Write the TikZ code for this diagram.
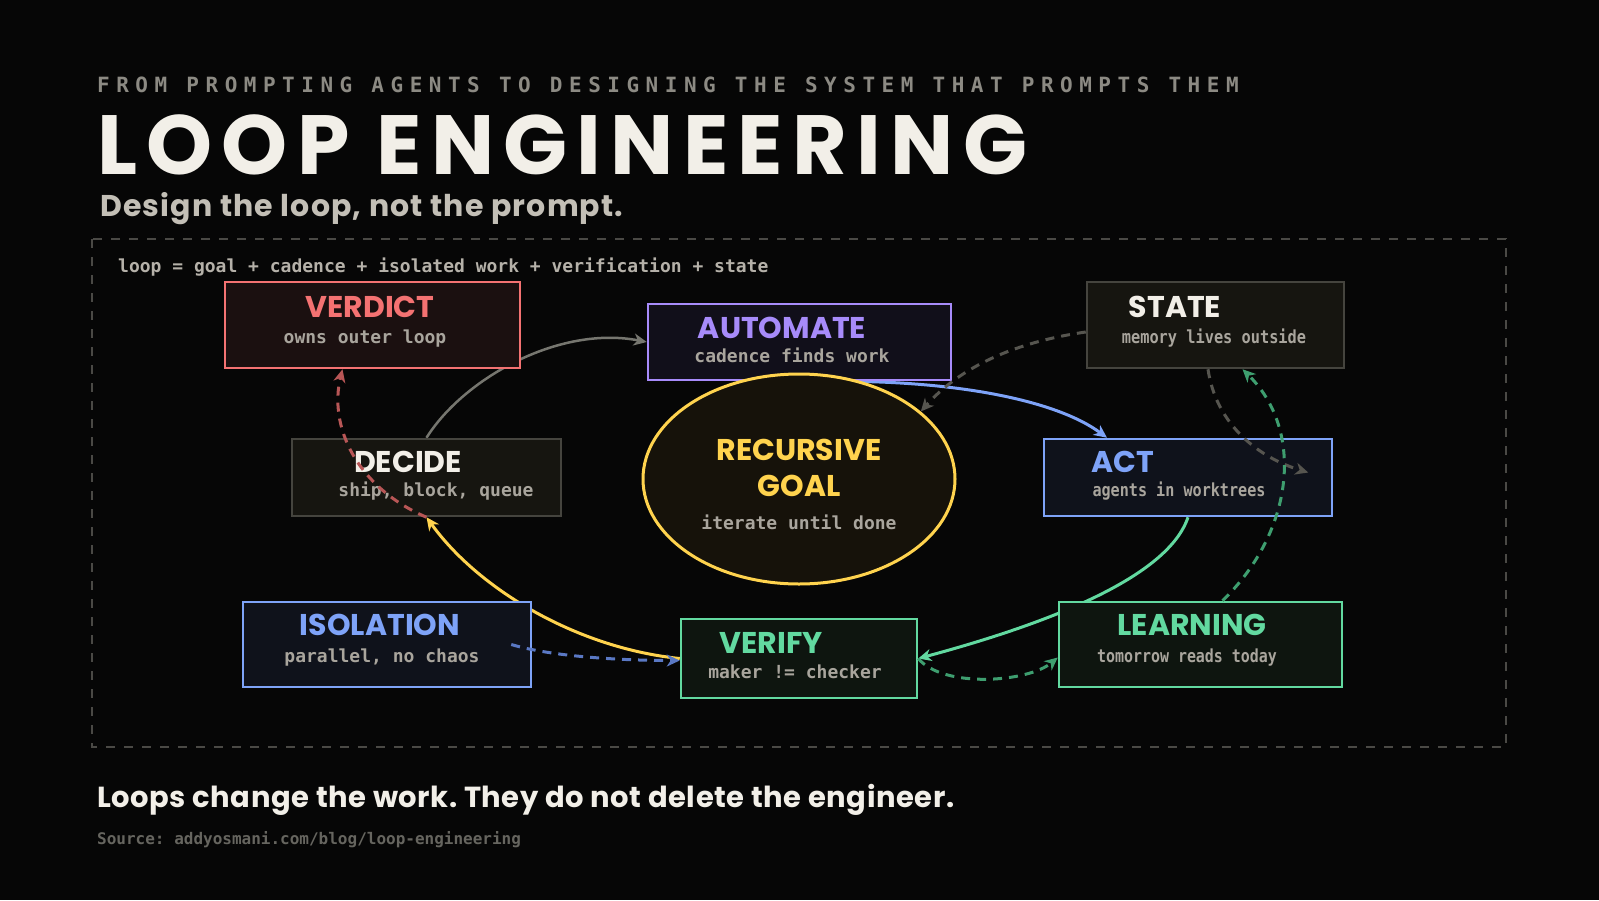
\documentclass[tikz,border=0pt]{standalone}
\usepackage{fontspec}
\usepackage{graphicx}
\usetikzlibrary{arrows.meta, shapes.geometric, positioning}
\setmainfont{Poppins}
\newfontfamily\titrefont{Poppins}
\newfontfamily\devisefont{Poppins}[LetterSpace=3.9]
\newfontfamily\moralefont{Poppins}[LetterSpace=1.9]
\newfontfamily\grandtitre{Poppins}[LetterSpace=11]
\newfontfamily\codefont{DejaVu Sans Mono}
\newfontfamily\surtitre{DejaVu Sans Mono}[LetterSpace=31]

\definecolor{fond}{HTML}{060606}
\definecolor{creme}{HTML}{F2EFE8}
\definecolor{grisclair}{HTML}{8C8A83}
\definecolor{grismoyen}{HTML}{C3BFB6}
\definecolor{cadre}{HTML}{4A4945}
\definecolor{formule}{HTML}{B5B1A9}
\definecolor{soustexte}{HTML}{A9A59D}
\definecolor{rouge}{HTML}{F47272}
\definecolor{rougefond}{HTML}{1B1010}
\definecolor{violet}{HTML}{A78BFA}
\definecolor{violetfond}{HTML}{110F1A}
\definecolor{grisbord}{HTML}{45443E}
\definecolor{grisfond}{HTML}{161510}
\definecolor{jaune}{HTML}{FFD34E}
\definecolor{jaunefond}{HTML}{16120A}
\definecolor{bleu}{HTML}{7EA3F8}
\definecolor{bleufond}{HTML}{0F121B}
\definecolor{vert}{HTML}{62D9A0}
\definecolor{vertfond}{HTML}{0E150F}
\definecolor{fleche}{HTML}{76766F}
\definecolor{tirets}{HTML}{56554F}
\definecolor{vertsombre}{HTML}{3E9E6F}
\definecolor{bleusombre}{HTML}{5A78C4}
\definecolor{rougesombre}{HTML}{B85656}
\definecolor{sourcegris}{HTML}{66655F}

\pgfdeclarelayer{fondcouche}
\pgfdeclarelayer{arcs}
\pgfsetlayers{fondcouche,arcs,main}

\begin{document}
\frenchspacing
\begin{tikzpicture}[x=1pt, y=-1pt,
    boite/.style 2 args={draw=#1, fill=#2, line width=2.5pt, inner sep=0pt},
    titre/.style={font=\titrefont\bfseries\fontsize{30}{30}\selectfont, anchor=base, inner sep=0pt},
    sous/.style={font=\codefont\bfseries\fontsize{18}{18}\selectfont, text=soustexte, anchor=base, inner sep=0pt},
    lien/.style={line width=3pt, -{Stealth[length=13pt, width=12pt, inset=4pt]}},
    pointille/.style={lien, dash pattern=on 9pt off 7pt}]

    % Fond noir
    \begin{pgfonlayer}{fondcouche}
        \fill[fond] (0,0) rectangle (1599,900);
    \end{pgfonlayer}
    \useasboundingbox (0,0) rectangle (1599,900);

    % En-tete
    \node[anchor=base west, inner sep=0pt, text=grisclair, font=\surtitre\bfseries\fontsize{21}{21}\selectfont] (sur) at (97,92) {FROM PROMPTING AGENTS TO DESIGNING THE SYSTEM THAT PROMPTS THEM};
    \node[anchor=base west, inner sep=0pt, text=creme, font=\grandtitre\bfseries\fontsize{84}{84}\selectfont] (gros) at (97,174) {LOOP ENGINEERING};
    \node[anchor=base west, inner sep=0pt, text=grismoyen, font=\devisefont\bfseries\fontsize{30}{30}\selectfont] (devise) at (100,216) {Design the loop, not the prompt.};

    % Cadre en tirets
    \draw[cadre, line width=2pt, dash pattern=on 9pt off 9pt] (92,239) rectangle (1506,747);
    \node[sous, anchor=base west, text=formule] (boucle) at (118,272) {loop = goal + cadence + isolated work + verification + state};

    % Boites
    \node[boite={rouge}{rougefond}, minimum width=295pt, minimum height=86pt] (verdict) at (372.5,325) {};
    \node[boite={violet}{violetfond}, minimum width=303pt, minimum height=76pt] (automate) at (799.5,342) {};
    \node[boite={grisbord}{grisfond}, minimum width=257pt, minimum height=86pt] (state) at (1215.5,325) {};
    \node[boite={grisbord}{grisfond}, minimum width=269pt, minimum height=77pt] (decide) at (426.5,477.5) {};
    \node[ellipse, draw=jaune, fill=jaunefond, line width=3pt, minimum width=312pt, minimum height=210pt, inner sep=0pt] (but) at (799,479) {};
    \node[boite={bleu}{bleufond}, minimum width=288pt, minimum height=77pt] (act) at (1188,477.5) {};
    \node[boite={bleu}{bleufond}, minimum width=288pt, minimum height=85pt] (isolation) at (387,644.5) {};
    \node[boite={vert}{vertfond}, minimum width=236pt, minimum height=79pt] (verify) at (799,658.5) {};
    \node[boite={vert}{vertfond}, minimum width=283pt, minimum height=85pt] (learning) at (1200.5,644.5) {};

    % Textes des boites
    \node[titre, text=rouge] (verdict-t) at (370,317) {VERDICT};
    \node[sous] (verdict-s) at (365,343) {owns outer loop};
    \node[titre, text=violet] (automate-t) at (782,338) {AUTOMATE};
    \node[sous] (automate-s) at (792,362) {cadence finds work};
    \node[titre, text=creme] (state-t) at (1175,317) {STATE};
    \node[sous] (state-s) at (1214,343) {\scalebox{0.85}[1]{memory lives outside}};
    \node[titre, text=creme] (decide-t) at (408,472) {DECIDE};
    \node[sous] (decide-s) at (436,496) {ship, block, queue};
    \node[titre, text=jaune] (but-t1) at (799,460) {RECURSIVE};
    \node[titre, text=jaune] (but-t2) at (799,496) {GOAL};
    \node[sous] (but-s) at (799,529) {iterate until done};
    \node[titre, text=bleu] (act-t) at (1123,472) {ACT};
    \node[sous] (act-s) at (1179,496) {\scalebox{0.84}[1]{agents in worktrees}};
    \node[titre, text=bleu] (isolation-t) at (380,635) {ISOLATION};
    \node[sous] (isolation-s) at (382,662) {parallel, no chaos};
    \node[titre, text=vert] (verify-t) at (771,653) {VERIFY};
    \node[sous] (verify-s) at (795,678) {maker != checker};
    \node[titre, text=vert] (learning-t) at (1192,635) {LEARNING};
    \node[sous] (learning-s) at (1187,662) {\scalebox{0.83}[1]{tomorrow reads today}};

    % Boucle principale (sous les boites)
    \begin{pgfonlayer}{arcs}
        \draw[lien, fleche, line width=2.5pt] (decide.north) .. controls +(37,-59) and +(-88,-17) .. (automate.west);
        \draw[lien, bleu] ([xshift=40pt]automate.south) .. controls +(120,0) and +(-50,-37) .. ([xshift=-81pt]act.north);
        \draw[lien, vert] (act.south) .. controls +(-20,60) and +(130,-35) .. (verify.east);
        \draw[lien, jaune] (verify.west) .. controls +(-100,-10) and +(53.5,74) .. (decide.south);
    \end{pgfonlayer}

    % Liens en pointilles
    \draw[pointille, tirets] ([yshift=-7pt]state.west) .. controls +(-70,10) and +(40,-45) .. (but.29);
    \draw[pointille, tirets] ([xshift=-7.5pt]state.south) .. controls +(8,55) and +(-50,-15) .. ([xshift=-25pt,yshift=5pt]act.east);
    \draw[pointille, vertsombre] ([xshift=22pt]learning.north) .. controls +(72,-70) and +(62,61) .. ([xshift=27pt]state.south);
    \draw[pointille, vertsombre] (verify.east) .. controls +(25,30) and +(-30,25) .. ([yshift=-13pt]learning.west);
    \draw[pointille, bleusombre] ([xshift=-21pt]isolation.east) .. controls +(40,12) and +(-60,0) .. ([yshift=-2pt]verify.west);
    \draw[pointille, rougesombre] (decide.south) .. controls +(-70,-30) and +(-14,57) .. ([xshift=-30pt]verdict.south);

    % Pied de page
    \node[anchor=base west, inner sep=0pt, text=creme, font=\moralefont\bfseries\fontsize{29}{29}\selectfont] (morale) at (97,807) {Loops change the work. They do not delete the engineer.};
    \node[anchor=base west, inner sep=0pt, text=sourcegris, font=\codefont\bfseries\fontsize{16}{16}\selectfont] (source) at (97,844) {Source: addyosmani.com/blog/loop-engineering};
\end{tikzpicture}
\end{document}
